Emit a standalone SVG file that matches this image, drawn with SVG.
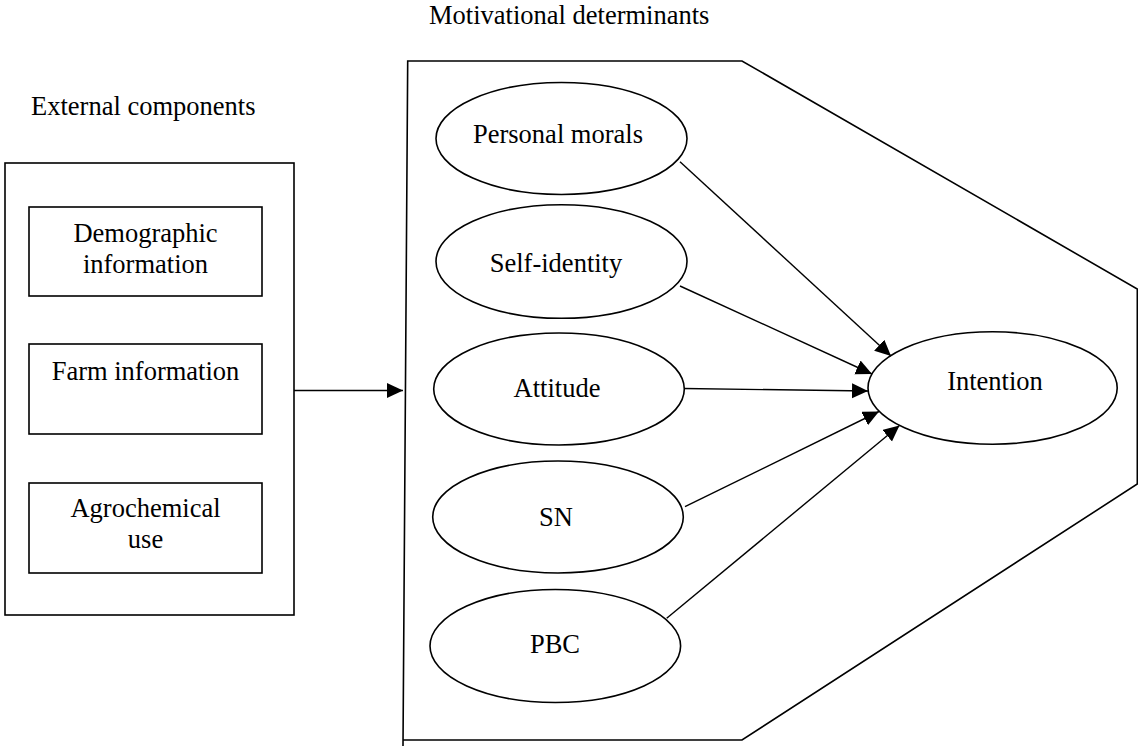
<svg xmlns="http://www.w3.org/2000/svg" width="1138" height="746" viewBox="0 0 1138 746">
<style>
text{font-family:"Liberation Serif","Times New Roman",serif;font-size:26.5px;fill:#000}
.c{text-anchor:middle}
.b{fill:none;stroke:#000;stroke-width:1.6}
.e{fill:#fff;stroke:#000;stroke-width:1.6}
.l{fill:none;stroke:#000;stroke-width:1.4}
</style>
<defs>
<marker id="ah" markerUnits="userSpaceOnUse" markerWidth="17" markerHeight="16" refX="16" refY="7.5" orient="auto">
<path d="M0,0 L16,7.5 L0,15 z" fill="#000"/>
</marker>
</defs>
<rect width="1138" height="746" fill="#fff"/>
<text x="31" y="115">External components</text>
<text x="429" y="23.5">Motivational determinants</text>
<g id="external">
<rect class="b" x="5" y="163" width="289" height="452"/>
</g>
<g id="demographic">
<rect class="b" x="29" y="207" width="233" height="89"/>
<text class="c" x="145.5" y="241.7">Demographic</text>
<text class="c" x="145.5" y="272.7">information</text>
</g>
<g id="farm">
<rect class="b" x="29" y="344" width="233" height="90"/>
<text class="c" x="145.5" y="380">Farm information</text>
</g>
<g id="agro">
<rect class="b" x="29" y="483" width="233" height="90"/>
<text class="c" x="145.5" y="516.7">Agrochemical</text>
<text class="c" x="145.5" y="548.3">use</text>
</g>
<g id="motivational">
<path class="b" d="M403,746 L407.7,61 L742,61 L1137.3,289 L1137.3,484 L742,740 L403,740"/>
</g>
<g id="personal-morals">
<ellipse class="e" cx="561.5" cy="138.5" rx="125.5" ry="56"/>
<text class="c" x="558" y="143.3">Personal morals</text>
</g>
<g id="self-identity">
<ellipse class="e" cx="561.5" cy="261.5" rx="125.5" ry="56.8"/>
<text class="c" x="556" y="271.7">Self-identity</text>
</g>
<g id="attitude">
<ellipse class="e" cx="559" cy="389" rx="125.3" ry="56"/>
<text class="c" x="557" y="397">Attitude</text>
</g>
<g id="sn">
<ellipse class="e" cx="558" cy="517" rx="125.3" ry="56"/>
<text class="c" x="556" y="526">SN</text>
</g>
<g id="pbc">
<ellipse class="e" cx="555.3" cy="646" rx="125.3" ry="56.5"/>
<text class="c" x="555" y="652.7">PBC</text>
</g>
<g id="intention">
<ellipse class="e" cx="992.6" cy="388" rx="124.6" ry="56.2"/>
<text class="c" x="995" y="390">Intention</text>
</g>
<g id="connectors">
<line class="l" x1="294" y1="390.5" x2="403" y2="390.5" marker-end="url(#ah)"/>
<line class="l" x1="680" y1="161.7" x2="891" y2="356" marker-end="url(#ah)"/>
<line class="l" x1="680" y1="286" x2="872" y2="374" marker-end="url(#ah)"/>
<line class="l" x1="684" y1="388.5" x2="868" y2="391" marker-end="url(#ah)"/>
<line class="l" x1="685" y1="506.7" x2="879" y2="411.5" marker-end="url(#ah)"/>
<line class="l" x1="666.7" y1="618.3" x2="899.5" y2="425.5" marker-end="url(#ah)"/>
</g>
</svg>
